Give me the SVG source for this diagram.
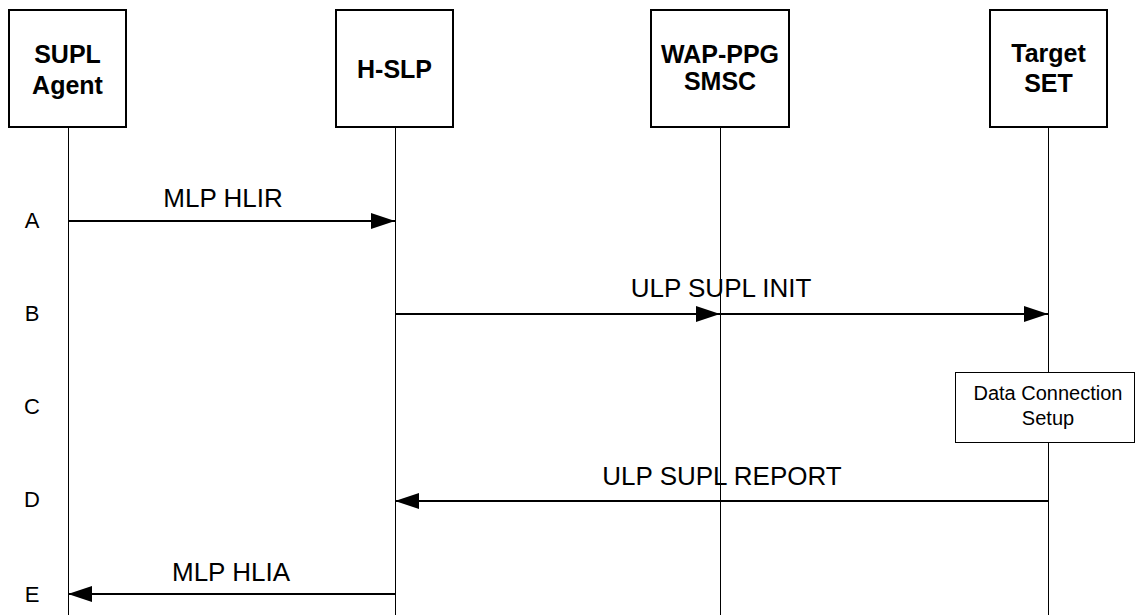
<svg xmlns="http://www.w3.org/2000/svg" width="1135" height="615" viewBox="0 0 1135 615">
<defs>
<style>
.box{fill:#fff;stroke:#000;stroke-width:2}
.life{stroke:#000;stroke-width:1;fill:none}
.msg{stroke:#000;stroke-width:2;fill:none}
.nt{font-family:"Liberation Sans",Arial,sans-serif;font-weight:bold;font-size:25px;text-anchor:middle;fill:#000}
.ml{font-family:"Liberation Sans",Arial,sans-serif;font-size:26px;text-anchor:middle;fill:#000}
.st{font-family:"Liberation Sans",Arial,sans-serif;font-size:22px;text-anchor:middle;fill:#000}
.pt{font-family:"Liberation Sans",Arial,sans-serif;font-size:20px;text-anchor:middle;fill:#000}
</style>
<marker id="ah" markerWidth="24" markerHeight="16" refX="24" refY="8" orient="auto" markerUnits="userSpaceOnUse">
<path d="M0,0 L24,8 L0,16 Z" fill="#000"/>
</marker>
</defs>
<rect width="1135" height="615" fill="#fff"/>
<g id="lifelines">
<line class="life" x1="68.5" y1="127" x2="68.5" y2="615"/>
<line class="life" x1="395.5" y1="127" x2="395.5" y2="615"/>
<line class="life" x1="720.5" y1="127" x2="720.5" y2="615"/>
<line class="life" x1="1048.5" y1="127" x2="1048.5" y2="615"/>
</g>
<g id="node-supl-agent">
<rect class="box" x="9" y="10" width="117" height="117"/>
<text class="nt" x="67.5" y="63">SUPL</text>
<text class="nt" x="67.5" y="94">Agent</text>
</g>
<g id="node-hslp">
<rect class="box" x="336" y="10" width="117" height="117"/>
<text class="nt" x="394.5" y="78">H-SLP</text>
</g>
<g id="node-wapppg">
<rect class="box" x="651" y="10" width="138" height="117"/>
<text class="nt" x="720" y="63">WAP-PPG</text>
<text class="nt" x="720" y="90">SMSC</text>
</g>
<g id="node-target">
<rect class="box" x="990" y="10" width="117" height="117"/>
<text class="nt" x="1048.5" y="62">Target</text>
<text class="nt" x="1048.5" y="92">SET</text>
</g>
<g id="node-dcs">
<rect x="955.5" y="372.5" width="179" height="70" fill="#fff" stroke="#000" stroke-width="1"/>
<text class="pt" x="1048" y="400">Data Connection</text>
<text class="pt" x="1048" y="425">Setup</text>
</g>
<g id="steps">
<text class="st" x="32" y="228">A</text>
<text class="st" x="32" y="321">B</text>
<text class="st" x="32" y="414">C</text>
<text class="st" x="32" y="507">D</text>
<text class="st" x="32" y="602">E</text>
</g>
<g id="connectors">
<line class="msg" x1="68" y1="221" x2="395" y2="221" marker-end="url(#ah)"/>
<text class="ml" x="223" y="207">MLP HLIR</text>
<line class="msg" x1="395" y1="314" x2="720" y2="314" marker-end="url(#ah)"/>
<line class="msg" x1="720" y1="314" x2="1048" y2="314" marker-end="url(#ah)"/>
<text class="ml" x="721" y="297">ULP SUPL INIT</text>
<line class="msg" x1="1048" y1="501" x2="395" y2="501" marker-end="url(#ah)"/>
<text class="ml" x="722" y="485">ULP SUPL REPORT</text>
<line class="msg" x1="395" y1="594" x2="68" y2="594" marker-end="url(#ah)"/>
<text class="ml" x="231" y="581">MLP HLIA</text>
</g>
</svg>
